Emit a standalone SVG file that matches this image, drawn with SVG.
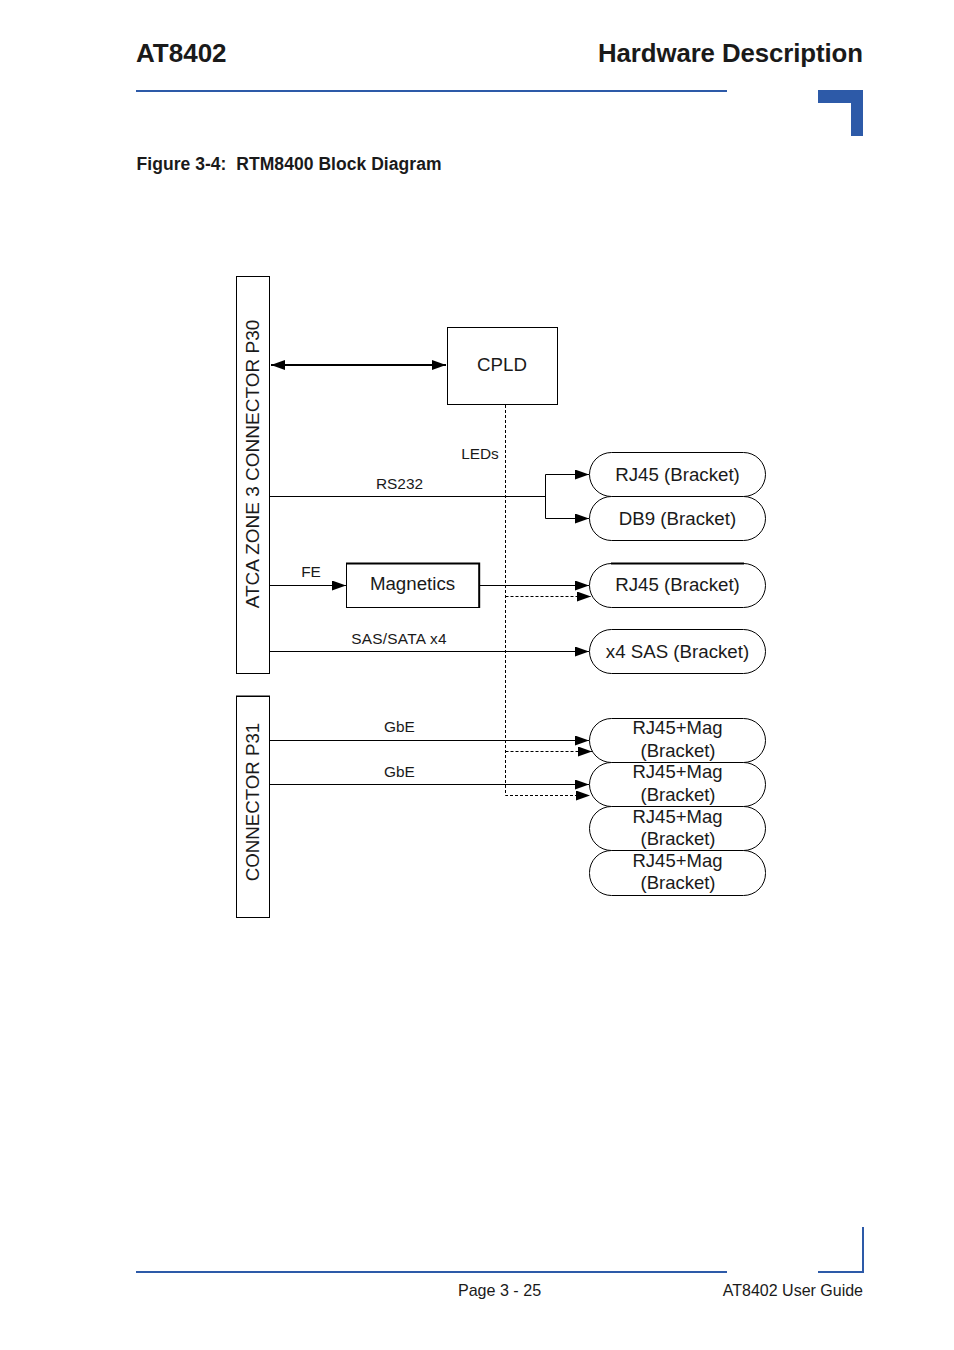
<svg xmlns="http://www.w3.org/2000/svg" width="954" height="1350" viewBox="0 0 954 1350">
<style>
text{font-family:"Liberation Sans",Arial,sans-serif;fill:#1a1a1a}
.b{fill:#fff;stroke:#000;stroke-width:1}
.n{font-size:18.7px;text-anchor:middle}
.v{font-size:19px;text-anchor:middle}
.m{font-size:18.5px;text-anchor:middle}
.l{font-size:15.4px;text-anchor:middle}
.c{fill:none;stroke:#000;stroke-width:1}
.d{fill:none;stroke:#000;stroke-width:1;stroke-dasharray:3 2}
.t{fill:none;stroke:#000;stroke-width:2}
.h{fill:#2d5aa8}
</style>
<defs>
<marker id="a" markerUnits="userSpaceOnUse" markerWidth="15" markerHeight="10" refX="14" refY="5" orient="auto-start-reverse"><path d="M0 0L14 5L0 10Z" fill="#000"/></marker>
</defs>
<g id="page">
<text x="136" y="62" font-size="26" font-weight="700">AT8402</text>
<text x="598" y="62" font-size="25.8" font-weight="700" textLength="265">Hardware Description</text>
<rect class="h" x="136" y="90" width="591" height="2"/>
<path class="h" d="M818 90H863V136H851V103H818Z"/>
<text x="136.500" y="170" font-size="17.500" font-weight="700" style="white-space:pre" textLength="305">Figure 3-4:  RTM8400 Block Diagram</text>
<rect class="h" x="136" y="1271" width="591" height="2"/>
<path class="h" d="M818 1271H862V1227H864V1273H818Z"/>
<text x="499.500" y="1296" font-size="16.100" text-anchor="middle">Page 3 - 25</text>
<text x="863" y="1296" font-size="16" text-anchor="end">AT8402 User Guide</text>
</g>
<g id="connectors">
<path class="c" style="stroke-width:2" d="M271 365H446" marker-start="url(#a)" marker-end="url(#a)"/>
<path class="d" d="M505.500 405V795.500H590" marker-end="url(#a)"/>
<path class="d" d="M505.500 596.500H591" marker-end="url(#a)"/>
<path class="d" d="M505.500 751.500H592" marker-end="url(#a)"/>
<path class="c" d="M270 496.500H545.500"/>
<path class="c" d="M589 474.500H545.500V518.500H589" marker-start="url(#a)" marker-end="url(#a)"/>
<path class="c" d="M270 585.500H346" marker-end="url(#a)"/>
<path class="c" d="M480 585.500H589" marker-end="url(#a)"/>
<path class="c" d="M270 651.500H589" marker-end="url(#a)"/>
<path class="c" d="M270 740.500H589" marker-end="url(#a)"/>
<path class="c" d="M270 784.500H589" marker-end="url(#a)"/>
<text class="l" x="480" y="459">LEDs</text>
<text class="l" x="399.500" y="489">RS232</text>
<text class="l" x="311" y="577">FE</text>
<text class="l" x="399" y="644" style="letter-spacing:.25px">SAS/SATA x4</text>
<text class="l" x="399.500" y="732">GbE</text>
<text class="l" x="399.500" y="777">GbE</text>
</g>
<g id="p30"><rect class="b" x="236.500" y="276.500" width="33" height="397"/><text class="v" transform="translate(258.500 464) rotate(-90)">ATCA ZONE 3 CONNECTOR P30</text></g>
<g id="p31"><rect class="b" x="236.500" y="696.500" width="33" height="221"/><path d="M236 696H270" stroke="#000" stroke-width="1"/><text class="n" transform="translate(258.500 802) rotate(-90)">CONNECTOR P31</text></g>
<g id="cpld"><rect class="b" x="447.500" y="327.500" width="110" height="77"/><text class="n" x="502" y="371">CPLD</text></g>
<g id="magnetics"><rect class="b" x="346.500" y="563.500" width="133" height="44"/><path class="t" d="M346 563.500H479.200V608"/><text class="n" x="412.500" y="590">Magnetics</text></g>
<g id="rj45-1"><rect class="b" x="589.500" y="452.500" width="176" height="44" rx="22"/><text class="n" x="677.500" y="480.500">RJ45 (Bracket)</text></g>
<g id="db9"><rect class="b" x="589.500" y="496.500" width="176" height="44" rx="22"/><text class="n" x="677.500" y="524.500">DB9 (Bracket)</text></g>
<g id="rj45-2"><rect class="b" x="589.500" y="563.500" width="176" height="44" rx="22"/><path class="t" d="M611 563.500H744"/><text class="n" x="677.500" y="590.500">RJ45 (Bracket)</text></g>
<g id="sas"><rect class="b" x="589.500" y="629.500" width="176" height="44" rx="22"/><text class="n" x="677.500" y="657.500">x4 SAS (Bracket)</text></g>
<g id="mag1"><rect class="b" x="589.500" y="718.500" width="176" height="44" rx="22"/><text class="m" x="677.500" y="734">RJ45+Mag</text><text class="m" x="678" y="757">(Bracket)</text></g>
<g id="mag2"><rect class="b" x="589.500" y="762.500" width="176" height="44" rx="22"/><text class="m" x="677.500" y="778">RJ45+Mag</text><text class="m" x="678" y="801">(Bracket)</text></g>
<g id="mag3"><rect class="b" x="589.500" y="806.500" width="176" height="44" rx="22"/><text class="m" x="677.500" y="823">RJ45+Mag</text><text class="m" x="678" y="845">(Bracket)</text></g>
<g id="mag4"><rect class="b" x="589.500" y="850.500" width="176" height="45" rx="22"/><text class="m" x="677.500" y="867">RJ45+Mag</text><text class="m" x="678" y="889">(Bracket)</text></g>
</svg>
